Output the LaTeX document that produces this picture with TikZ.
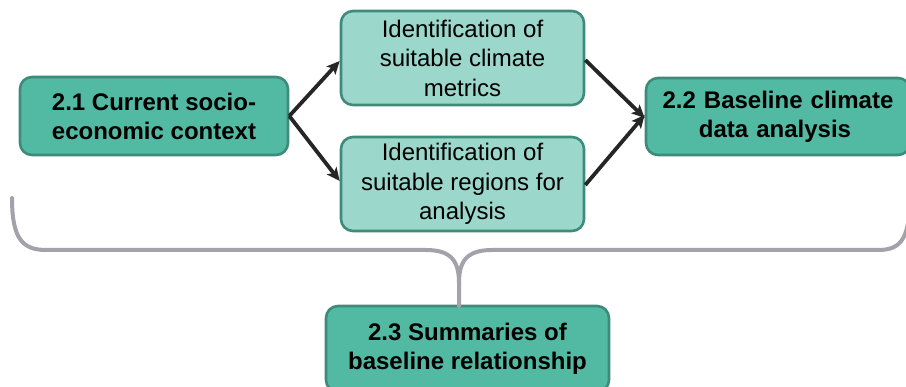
\documentclass[tikz,border=0pt]{standalone}
\usepackage{fontspec}
\setmainfont{Liberation Sans}
\usetikzlibrary{arrows.meta}
\definecolor{darkfill}{HTML}{52B9A3}
\definecolor{lightfill}{HTML}{9BD7CA}
\definecolor{boxborder}{HTML}{3D8B79}
\definecolor{arrowcol}{HTML}{262626}
\definecolor{bracecol}{HTML}{A3A1AA}
\tikzset{
  basebox/.style={draw=boxborder, line width=2.6pt, rounded corners=12pt, align=center, inner sep=0pt, font=\fontsize{24}{29.5}\selectfont, text=black},
  darkbox/.style={basebox, fill=darkfill, font=\fontsize{24}{29}\selectfont\bfseries},
  lightbox/.style={basebox, fill=lightfill},
  flow/.style={draw=arrowcol, line width=3.8pt, -{Stealth[length=13pt,width=12pt,inset=3pt]}},
  brace/.style={draw=bracecol, line width=4pt, line cap=round}
}
\begin{document}
\begin{tikzpicture}[x=1pt,y=-1pt]
\useasboundingbox (0,0) rectangle (906,387);
\node[darkbox, minimum width=268pt, minimum height=78pt] (A) at (154,116) {2.1 Current socio-\\economic context};
\node[lightbox, minimum width=243pt, minimum height=94pt] (B) at (462.5,58) {Identification of\\suitable climate\\metrics};
\node[lightbox, minimum width=243pt, minimum height=94pt] (C) at (462.5,184) {Identification of\\suitable regions for\\analysis};
\node[darkbox, minimum width=264pt, minimum height=77pt, text width=258pt] (D) at (778,116.5) {2.2 Baseline climate\\data analysis\hspace*{6pt}};
\node[darkbox, minimum width=283pt, minimum height=86pt] (E) at (467.5,349) {2.3 Summaries of\\baseline relationship};
\coordinate (tip) at (459,306);
\draw[flow] (A.east) -- ([yshift=-3pt]B.west);
\draw[flow] (A.east) -- ([yshift=3pt]C.west);
\draw[flow] ([yshift=-2pt]B.east) -- ([yshift=-1.5pt]D.west);
\draw[flow] ([yshift=-1pt]C.east) -- ([yshift=1.5pt]D.west);
\draw[brace] (12,198) .. controls (12,238) and (22,250) .. (46,250) -- (426,250)
  .. controls (452,250) and (459,262) .. (459,283) -- (tip);
\draw[brace] (459,283) .. controls (459,262) and (466,250) .. (492,250) -- (878,250)
  .. controls (900,250) and (908,240) .. (910,205);
\end{tikzpicture}
\end{document}
